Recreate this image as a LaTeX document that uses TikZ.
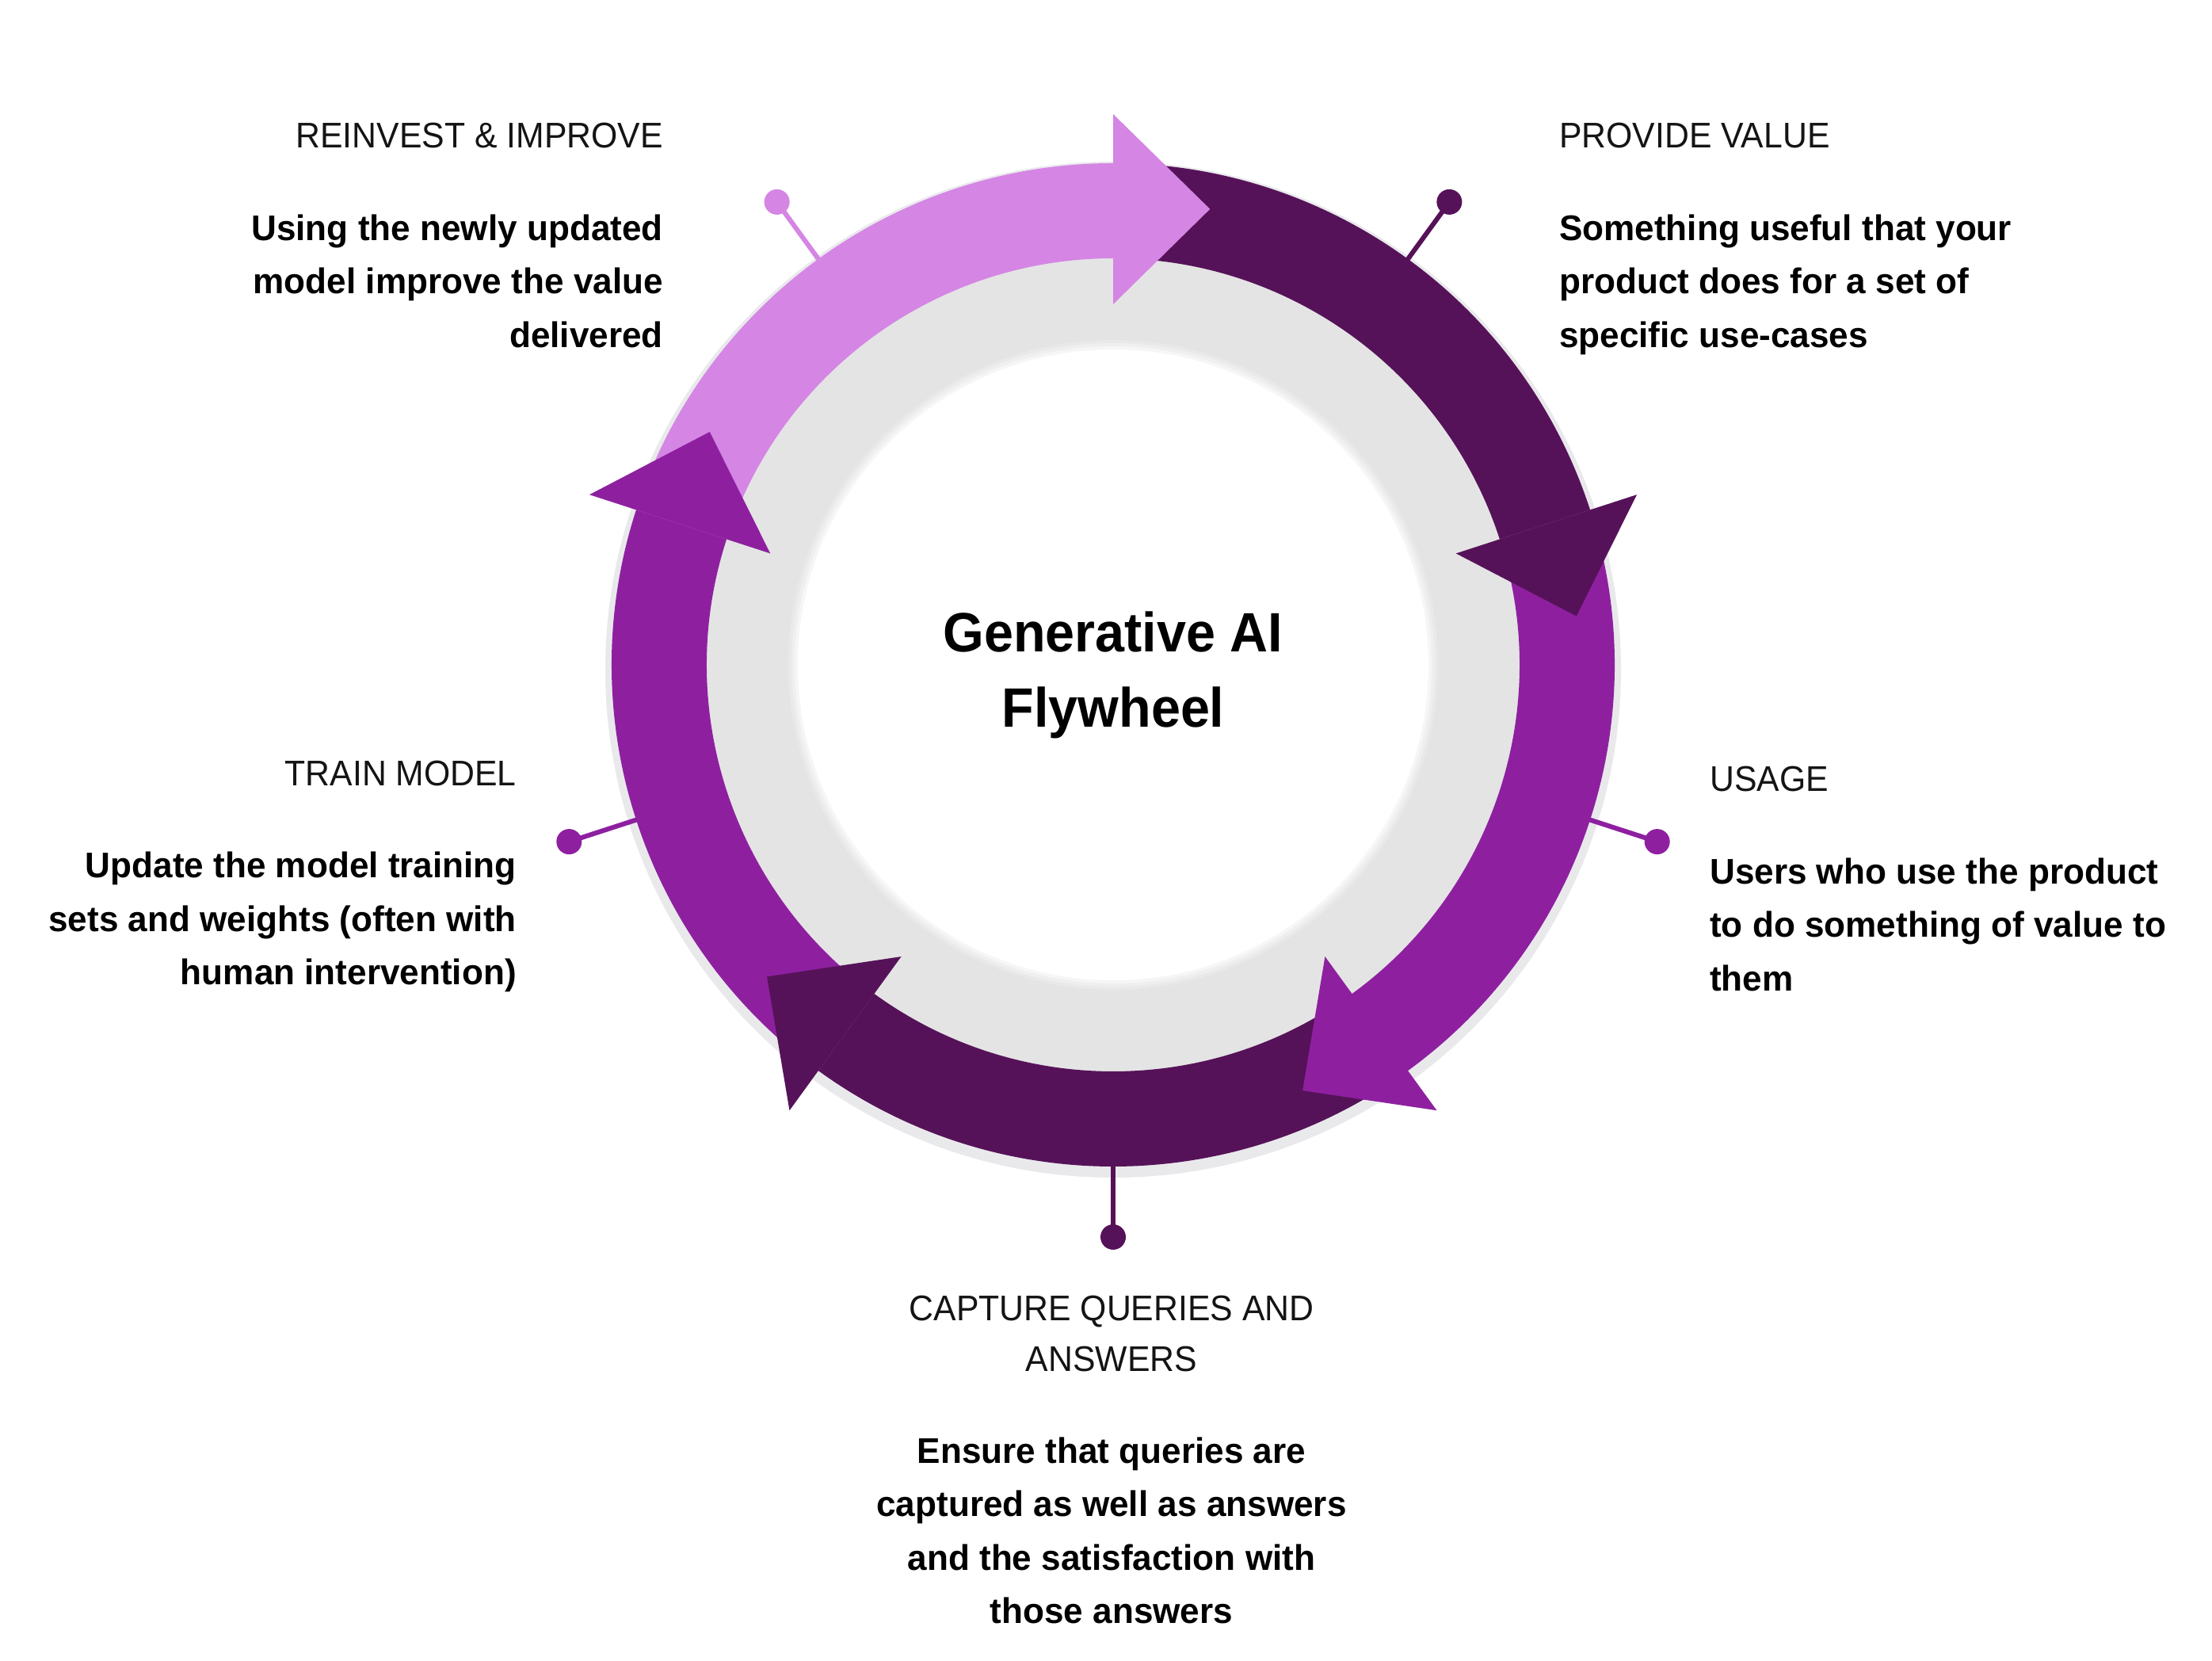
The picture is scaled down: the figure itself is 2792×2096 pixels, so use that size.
\documentclass[tikz,border=0pt]{standalone}
\usepackage{fontspec}
\setmainfont{Liberation Sans}
\newfontfamily\headfont[FakeStretch=0.95]{Liberation Sans}
\newfontfamily\bodyfont[FakeStretch=0.98]{Liberation Sans}
\newfontfamily\titlefont[FakeStretch=0.95]{Liberation Sans}
\definecolor{lightp}{HTML}{D585E4}
\definecolor{darkp}{HTML}{561259}
\definecolor{midp}{HTML}{8E20A0}
\definecolor{ringgray}{HTML}{E4E4E4}
\definecolor{rimgray}{HTML}{E9E9EC}
\definecolor{edgeA}{HTML}{E9E9E9}
\definecolor{edgeB}{HTML}{EFEFEF}
\definecolor{edgeC}{HTML}{F6F6F6}
\begin{document}
\begin{tikzpicture}[x=1pt,y=1pt,
  hdtext/.style={font=\headfont\fontsize{45}{64}\selectfont, text=black!92, inner sep=0pt},
  bdtext/.style={font=\bodyfont\bfseries\fontsize{45}{67.5}\selectfont, text=black, inner sep=0pt},
  ttltext/.style={font=\titlefont\bfseries\fontsize{70}{95}\selectfont, text=black, inner sep=0pt, align=center},
  pinstem/.style={line width=6pt},
]
\useasboundingbox (0,0) rectangle (2792,2096);
\fill[white] (0,0) rectangle (2792,2096);

% ring
\begin{scope}[shift={(1405,1257)}]
  \coordinate (ctr) at (0,0);
  \fill[rimgray] (0,-6) circle (641);
  \fill[ringgray] (0,0) circle (560);
  \fill[edgeA] (0,0) circle (410);
  \fill[edgeB] (0,0) circle (406);
  \fill[edgeC] (0,0) circle (402);
  \fill[white] (0,0) circle (398);
  % pins
  \foreach \a/\c in {126/lightp, 54/darkp, -18/midp, -90/darkp, 198/midp}{
    \draw[\c, pinstem] (\a:600) -- (\a:722);
    \fill[\c] (\a:722) circle (16);
  }
  % arrow shafts
  \foreach \b/\c in {90/lightp, 18/darkp, -54/midp, -126/darkp, -198/midp}{
    \fill[\c] ({\b+72}:633) arc[start angle={\b+72}, end angle=\b, radius=633]
      -- (\b:513) arc[start angle=\b, end angle={\b+72}, radius=513] -- cycle;
  }
  % arrow heads
  \foreach \b/\c in {90/lightp, 18/darkp, -54/midp, -126/darkp, -198/midp}{
    \fill[\c] (\b:455) -- (\b:695) -- ({\b-12}:588) -- cycle;
  }
\end{scope}

% title
\node[ttltext, anchor=north] (title) at (1405,1324) {Generative AI\\Flywheel};

% labels
\node[hdtext, anchor=north east, align=right] (h1) at (837,1941.5) {REINVEST \& IMPROVE};
\node[bdtext, anchor=north east, align=right] (t1) at (837,1825.5) {Using the newly updated\\model improve the value\\delivered};

\node[hdtext, anchor=north west, align=left] (h2) at (1968,1941.5) {PROVIDE VALUE};
\node[bdtext, anchor=north west, align=left] (t2) at (1968,1825.5) {Something useful that your\\product does for a set of\\specific use-cases};

\node[hdtext, anchor=north east, align=right] (h3) at (652,1136.5) {TRAIN MODEL};
\node[bdtext, anchor=north east, align=right] (t3) at (652,1021) {Update the model training\\sets and weights (often with\\human intervention)};

\node[hdtext, anchor=north west, align=left] (h4) at (2158,1129.5) {USAGE};
\node[bdtext, anchor=north west, align=left] (t4) at (2158,1013.5) {Users who use the product\\to do something of value to\\them};

\node[hdtext, anchor=north, align=center] (h5) at (1403,461.5) {CAPTURE QUERIES AND\\ANSWERS};
\node[bdtext, anchor=north, align=center] (t5) at (1403,282.5) {Ensure that queries are\\captured as well as answers\\and the satisfaction with\\those answers};
\end{tikzpicture}
\end{document}
